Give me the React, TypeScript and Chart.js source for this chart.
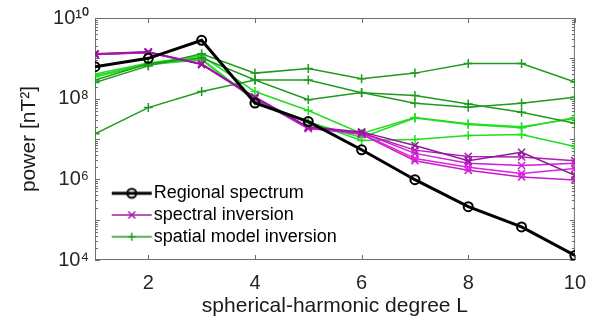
import React, { useEffect, useRef } from 'react';
import { Chart, registerables } from 'chart.js';

Chart.register(...registerables);

// ---- data ----
const degrees = [1, 2, 3, 4, 5, 6, 7, 8, 9, 10];

const regionalSpectrum = [6.2e8, 1.0e9, 2.8e9, 7.8e7, 2.7e7, 5.4e6, 9.8e5, 2.1e5, 6.6e4, 1.3e4];

const spectralInv1 = [1.3e9, 1.45e9, 7.0e8, 1.1e8, 2.0e7, 1.5e7, 6.9e6, 2.9e6, 4.7e6, 1.26e6];
const spectralInv2 = [1.25e9, 1.4e9, 7.2e8, 1.05e8, 1.9e7, 1.4e7, 5.3e6, 3.7e6, 3.6e6, 2.9e6];
const spectralInv3 = [1.26e9, 1.42e9, 7.3e8, 1.0e8, 1.8e7, 1.45e7, 4.4e6, 2.5e6, 2.2e6, 2.5e6];
const spectralInv4 = [1.24e9, 1.38e9, 7.1e8, 1.02e8, 1.85e7, 1.35e7, 3.3e6, 2.0e6, 1.4e6, 1.86e6];
const spectralInv5 = [1.27e9, 1.43e9, 7.4e8, 1.08e8, 1.95e7, 1.3e7, 2.9e6, 1.67e6, 1.15e6, 9.6e5];

const spatialDark1 = [2.5e8, 6.5e8, 1.3e9, 4.3e8, 5.6e8, 3.1e8, 4.3e8, 7.4e8, 7.4e8, 2.6e8];
const spatialDark2 = [2.9e8, 7.3e8, 1.03e9, 2.9e8, 2.9e8, 1.4e8, 1.19e8, 7.4e7, 4.6e7, 2.45e7];
const spatialDark3 = [1.34e7, 6.0e7, 1.5e8, 2.9e8, 9.4e7, 1.42e8, 7.7e7, 6.1e7, 7.7e7, 1.08e8];
const spatialBright1 = [4.1e8, 7.7e8, 1.15e9, 1.5e8, 5.1e7, 1.37e7, 3.4e7, 2.4e7, 2.0e7, 3.2e7];
const spatialBright2 = [3.7e8, 7.3e8, 9.7e8, 8.9e7, 2.6e7, 1.09e7, 3.3e7, 2.3e7, 1.9e7, 3.4e7];
const spatialBright3 = [3.5e8, 6.9e8, 9.2e8, 8.9e7, 2.7e7, 9.2e6, 9.7e6, 1.22e7, 1.29e7, 6.5e6];

const xTickValues = [2, 4, 6, 8, 10];
const yTickValues = [1e4, 1e6, 1e8, 1e10];
const yTickLabels = ['10⁴', '10⁶', '10⁸', '10¹⁰'];

const legendLabels = ['Regional spectrum', 'spectral inversion', 'spatial model inversion'];

const FONT = "'Liberation Sans', Arial, Helvetica, sans-serif";
const BLACK = '#000000';
const PURPLE = '#a020a0';
const DARK_GREEN = '#1f9a1f';
const BRIGHT_GREEN = '#22dd22';

function makeSample(color: string, width: number, marker: 'circle' | 'x' | 'plus') {
  const c = document.createElement('canvas');
  c.width = 52;
  c.height = 16;
  const g = c.getContext('2d')!;
  g.strokeStyle = color;
  g.lineWidth = width;
  g.beginPath();
  g.moveTo(11, 8);
  g.lineTo(51, 8);
  g.stroke();
  g.lineWidth = marker === 'circle' ? 2 : 1.5;
  g.beginPath();
  if (marker === 'circle') {
    g.arc(31, 8, 4.5, 0, Math.PI * 2);
  } else if (marker === 'x') {
    g.moveTo(27.5, 4.5); g.lineTo(34.5, 11.5);
    g.moveTo(34.5, 4.5); g.lineTo(27.5, 11.5);
  } else {
    g.moveTo(27, 8); g.lineTo(35, 8);
    g.moveTo(31, 4); g.lineTo(31, 12);
  }
  g.stroke();
  return c;
}

const frameTicks = {
  id: 'frameTicks',
  beforeDatasetsDraw(chart: any) {
    const { ctx, chartArea: a, scales } = chart;
    const xs = scales.x;
    const ys = scales.y;
    ctx.save();
    ctx.strokeStyle = '#6e6e6e';
    ctx.lineWidth = 1;
    ctx.beginPath();
    for (const v of xTickValues) {
      const px = Math.round(xs.getPixelForValue(v)) + 0.5;
      ctx.moveTo(px, a.bottom); ctx.lineTo(px, a.bottom - 5);
      ctx.moveTo(px, a.top); ctx.lineTo(px, a.top + 5);
    }
    for (let e = 4; e < 10; e++) {
      for (let m = 1; m < 10; m++) {
        const py = Math.round(ys.getPixelForValue(m * Math.pow(10, e))) + 0.5;
        const len = m === 1 ? 5 : 3;
        ctx.moveTo(a.left, py); ctx.lineTo(a.left + len, py);
        ctx.moveTo(a.right, py); ctx.lineTo(a.right - len, py);
      }
    }
    ctx.stroke();
    ctx.strokeRect(a.left + 0.5, a.top + 0.5, a.right - a.left - 1, a.bottom - a.top - 1);
    ctx.restore();
  },
};

const LEG_LEFT = 105;
const LEG_TOP = 180.6;

const legendInside = {
  id: 'legendInside',
  beforeLayout(chart: any) {
    const lg = chart.legend;
    if (lg && !lg._insidePatched) {
      const orig = lg.fit;
      lg.fit = function () {
        orig.call(this);
        this.width = 0;
      };
      lg._insidePatched = true;
    }
  },
  afterLayout(chart: any) {
    const lg = chart.legend;
    if (!lg) return;
    lg.left = LEG_LEFT;
    lg.top = LEG_TOP;
    lg.width = 260;
    lg.height = 80;
    lg.right = LEG_LEFT + 260;
    lg.bottom = LEG_TOP + 80;
  },
};

export default function App() {
  const ref = useRef<HTMLCanvasElement>(null);

  useEffect(() => {
    const canvas = ref.current!;
    const pts = (arr: number[]) => arr.map((v, i) => ({ x: degrees[i], y: v }));

    const spectralSeries = [
      { data: spectralInv1, color: '#8e1a96' },
      { data: spectralInv2, color: '#b21cb8' },
      { data: spectralInv3, color: '#d21cd6' },
      { data: spectralInv4, color: '#e020e0' },
      { data: spectralInv5, color: '#c41ec8' },
    ];
    const spatialSeries = [
      { data: spatialDark1, color: DARK_GREEN },
      { data: spatialDark2, color: DARK_GREEN },
      { data: spatialDark3, color: DARK_GREEN },
      { data: spatialBright1, color: BRIGHT_GREEN },
      { data: spatialBright2, color: BRIGHT_GREEN },
      { data: spatialBright3, color: BRIGHT_GREEN },
    ];

    const datasets: any[] = [
      {
        label: legendLabels[0],
        data: pts(regionalSpectrum),
        borderColor: BLACK,
        borderWidth: 3,
        pointStyle: 'circle',
        pointRadius: 4.5,
        pointBorderWidth: 2,
        pointBorderColor: BLACK,
        pointBackgroundColor: 'rgba(0,0,0,0)',
      },
      ...spectralSeries.map((s) => ({
        label: legendLabels[1],
        data: pts(s.data),
        borderColor: s.color,
        borderWidth: 1.5,
        pointStyle: 'crossRot',
        pointRadius: 5,
        pointBorderWidth: 1.5,
        pointBorderColor: s.color,
        pointBackgroundColor: s.color,
      })),
      ...spatialSeries.map((s) => ({
        label: legendLabels[2],
        data: pts(s.data),
        borderColor: s.color,
        borderWidth: 1.5,
        pointStyle: 'cross',
        pointRadius: 4.5,
        pointBorderWidth: 1.5,
        pointBorderColor: s.color,
        pointBackgroundColor: s.color,
      })),
    ];

    const samples = [
      makeSample(BLACK, 3, 'circle'),
      makeSample(PURPLE, 1.5, 'x'),
      makeSample(DARK_GREEN, 1.5, 'plus'),
    ];
    const sampleColors = [BLACK, PURPLE, DARK_GREEN];

    const chart = new Chart(canvas, {
      type: 'line',
      data: { datasets },
      options: {
        animation: false,
        responsive: false,
        devicePixelRatio: 1,
        events: [],
        layout: { padding: { left: 0, right: 15, top: 17, bottom: 0 } },
        elements: { line: { tension: 0 } },
        plugins: {
          tooltip: { enabled: false },
          legend: {
            display: true,
            position: 'left',
            align: 'start',
            labels: {
              usePointStyle: true,
              pointStyleWidth: 36,
              padding: 3.7,
              color: '#000',
              font: { size: 18, family: FONT },
              generateLabels: () =>
                legendLabels.map((text, i) => ({
                  text,
                  pointStyle: samples[i] as any,
                  fillStyle: sampleColors[i],
                  strokeStyle: sampleColors[i],
                  lineWidth: 0,
                  hidden: false,
                  fontColor: '#000',
                  datasetIndex: i,
                })),
            },
          },
        },
        scales: {
          x: {
            type: 'linear',
            min: 1,
            max: 10,
            afterBuildTicks: (scale: any) => {
              scale.ticks = xTickValues.map((v) => ({ value: v }));
            },
            afterFit: (scale: any) => {
              scale.height = 61;
            },
            grid: { display: false, drawTicks: false },
            border: { display: false },
            ticks: {
              font: { size: 20, family: FONT },
              color: '#262626',
              padding: 11,
              maxRotation: 0,
              callback: (v: any) => String(v),
            },
            title: {
              display: true,
              text: 'spherical-harmonic degree L',
              font: { size: 21, family: FONT },
              color: '#1a1a1a',
              padding: { top: 0, bottom: 2 },
            },
          },
          y: {
            type: 'logarithmic',
            min: 1e4,
            max: 1e10,
            afterBuildTicks: (scale: any) => {
              scale.ticks = yTickValues.map((v) => ({ value: v }));
            },
            afterFit: (scale: any) => {
              scale.width = 95;
            },
            grid: { display: false, drawTicks: false },
            border: { display: false },
            ticks: {
              font: { size: 20, family: FONT },
              color: '#262626',
              padding: 6,
              callback: (_v: any, i: number) => yTickLabels[i],
            },
            title: {
              display: true,
              text: 'power [nT²]',
              font: { size: 21, family: FONT },
              color: '#1a1a1a',
              padding: { top: 17, bottom: 0 },
            },
          },
        },
      } as any,
      plugins: [frameTicks, legendInside],
    });

    return () => chart.destroy();
  }, []);

  return (
    <div style={{ position: 'fixed', left: 0, top: 0, width: 597, height: 321, background: '#fff' }}>
      <canvas ref={ref} width={597} height={321} style={{ display: 'block', width: 597, height: 321 }} />
    </div>
  );
}
